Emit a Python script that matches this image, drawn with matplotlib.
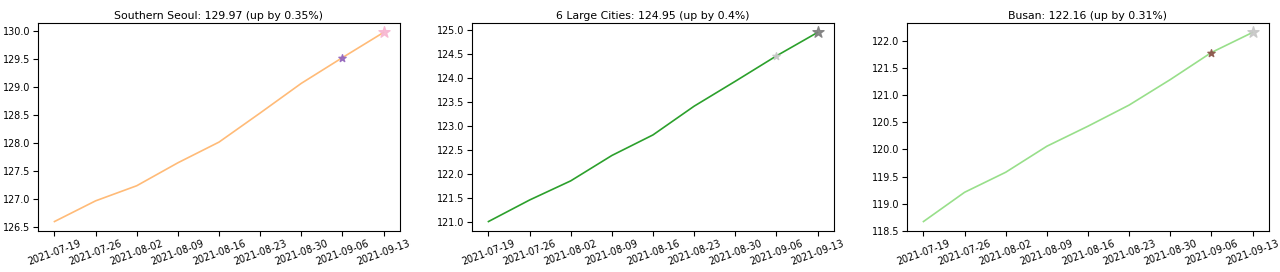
import pandas as pd
import matplotlib
matplotlib.use("Agg")
import matplotlib.pyplot as plt
import matplotlib.dates as mdates

dates = pd.to_datetime(["2021-07-19", "2021-07-26", "2021-08-02", "2021-08-09", "2021-08-16",
                        "2021-08-23", "2021-08-30", "2021-09-06", "2021-09-13"])

regions = ["Southern Seoul", "6 Large Cities", "Busan"]
seoul_values = [126.59, 126.96, 127.23, 127.64, 128.01, 128.53, 129.06, 129.52, 129.97]
cities_values = [121.00, 121.45, 121.85, 122.38, 122.81, 123.41, 123.93, 124.46, 124.95]
busan_values = [118.67, 119.21, 119.58, 120.06, 120.43, 120.82, 121.29, 121.79, 122.16]
changes = ["0.35", "0.4", "0.31"]

line_colors = ["#ffbb78", "#2ca02c", "#98df8a"]
prev_colors = ["#9467bd", "#c7c7c7", "#8c564b"]
last_colors = ["#f7b6d2", "#7f7f7f", "#c7c7c7"]

fig = plt.figure(figsize=(12.8, 2.72), dpi=100)
lefts = [38 / 1280, 472 / 1280, 907 / 1280]
bottom = 41 / 272
height = 208 / 272
width = 362 / 1280

for i, values in enumerate([seoul_values, cities_values, busan_values]):
    ax = fig.add_axes([lefts[i], bottom, width, height])
    ax.plot(dates, values, color=line_colors[i], linewidth=1.2)
    ax.scatter(dates[-2], values[-2], marker='*', s=30, color=prev_colors[i], zorder=3, alpha=0.9)
    ax.scatter(dates[-1], values[-1], marker='*', s=70, color=last_colors[i], zorder=3, alpha=0.9)
    ax.set_title(f"{regions[i]}: {values[-1]:.2f} (up by {changes[i]}%)", fontsize=7.8, pad=3)
    ax.set_xticks(dates)
    ax.xaxis.set_major_formatter(mdates.DateFormatter("%Y-%m-%d"))
    ax.tick_params(axis='x', labelsize=6.9, rotation=20, pad=2)
    ax.tick_params(axis='y', labelsize=6.9, pad=2)

plt.savefig("out.png", format="png", transparent=False)
